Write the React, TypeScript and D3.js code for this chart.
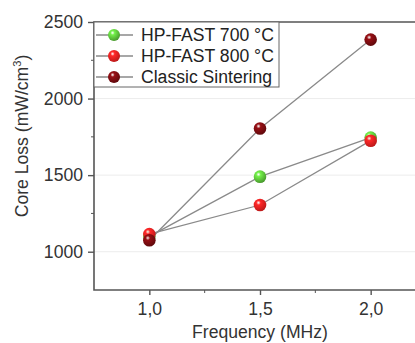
import React, { useEffect, useRef } from 'react';
import * as d3 from 'd3';

// Values
const frequencies = [1.0, 1.5, 2.0];
const hpFast700 = [1100, 1490, 1745];
const hpFast800 = [1115, 1305, 1725];
const classicSintering = [1075, 1805, 2385];

const seriesNames = ['HP-FAST 700 °C', 'HP-FAST 800 °C', 'Classic Sintering'];
const seriesColors = ['#5cc23a', '#f02020', '#7a0c10'];
const seriesValues = [hpFast700, hpFast800, classicSintering];

const xTicks = [1.0, 1.5, 2.0];
const xMinorTicks = [1.25, 1.75, 2.25];
const yTicks = [1000, 1500, 2000, 2500];
const yMinorTicks = [1250, 1750, 2250];

const App = () => {
  const ref = useRef<SVGSVGElement>(null);

  useEffect(() => {
    const svg = d3.select(ref.current);
    svg.selectAll('*').remove();

    const width = 415;
    const height = 343;
    const margin = { top: 22, left: 94, bottom: 290 };
    const font = "'Liberation Sans', Arial, sans-serif";
    const fontSize = '17.6px';

    const x = d3.scaleLinear().domain([0.75, 2.25]).range([margin.left, margin.left + 332]);
    const y = d3.scaleLinear().domain([750, 2500]).range([margin.bottom, margin.top]);

    svg.attr('width', width).attr('height', height);

    // gradients for the ball markers
    const defs = svg.append('defs');
    seriesColors.forEach((c, i) => {
      const g = defs.append('radialGradient')
        .attr('id', `ball${i}`)
        .attr('cx', '0.38').attr('cy', '0.32').attr('r', '0.7');
      g.append('stop').attr('offset', '0%').attr('stop-color', '#ffffff').attr('stop-opacity', 0.9);
      g.append('stop').attr('offset', '25%').attr('stop-color', d3.color(c)!.brighter(0.6).toString());
      g.append('stop').attr('offset', '100%').attr('stop-color', d3.color(c)!.darker(0.7).toString());
    });

    // light horizontal grid
    svg.append('g')
      .selectAll('line')
      .data(yTicks.slice(0, 3))
      .enter().append('line')
      .attr('x1', margin.left).attr('x2', width)
      .attr('y1', d => y(d)).attr('y2', d => y(d))
      .attr('stroke', '#ececec').attr('stroke-width', 1);

    // frame
    svg.append('path')
      .attr('d', `M${width + 2},${margin.top}H${margin.left}V${margin.bottom}H${width + 2}`)
      .attr('fill', 'none').attr('stroke', '#555').attr('stroke-width', 1.6);

    // x axis
    const xAxis = svg.append('g').attr('transform', `translate(0,${margin.bottom})`);
    xAxis.call(
      d3.axisBottom(x).tickValues(xTicks).tickSize(5).tickPadding(8)
        .tickFormat(d => d3.format('.1f')(d as number).replace('.', ','))
    );
    xAxis.append('g').selectAll('line')
      .data(xMinorTicks)
      .enter().append('line')
      .attr('x1', d => x(d)).attr('x2', d => x(d))
      .attr('y1', 0).attr('y2', 3)
      .attr('stroke', '#555');

    // y axis
    const yAxis = svg.append('g').attr('transform', `translate(${margin.left},0)`);
    yAxis.call(d3.axisLeft(y).tickValues(yTicks).tickSize(6).tickPadding(5).tickFormat(d3.format('d')));
    yAxis.append('g').selectAll('line')
      .data(yMinorTicks)
      .enter().append('line')
      .attr('x1', 0).attr('x2', -3)
      .attr('y1', d => y(d)).attr('y2', d => y(d))
      .attr('stroke', '#555');

    svg.selectAll('.domain').remove();
    svg.selectAll('.tick line').attr('stroke', '#555').attr('stroke-width', 1.4);
    svg.selectAll('.tick text')
      .attr('fill', '#333')
      .style('font-family', font)
      .style('font-size', fontSize);

    // axis titles
    svg.append('text')
      .attr('x', x(1.5)).attr('y', 338)
      .attr('text-anchor', 'middle')
      .attr('fill', '#333')
      .style('font-family', font).style('font-size', fontSize)
      .text('Frequency (MHz)');

    const yTitle = svg.append('text')
      .attr('transform', `translate(28,${(margin.top + margin.bottom) / 2 - 20}) rotate(-90)`)
      .attr('text-anchor', 'middle')
      .attr('fill', '#333')
      .style('font-family', font).style('font-size', fontSize);
    yTitle.append('tspan').text('Core Loss (mW/cm');
    yTitle.append('tspan').attr('dy', -7).style('font-size', '11px').text('3');
    yTitle.append('tspan').attr('dy', 7).text(')');

    // series lines and markers
    const line = d3.line<number>()
      .x((_, i) => x(frequencies[i]))
      .y(d => y(d));

    seriesValues.forEach(vals => {
      svg.append('path')
        .datum(vals)
        .attr('d', line)
        .attr('fill', 'none')
        .attr('stroke', '#8a8a8a')
        .attr('stroke-width', 1.3);
    });

    seriesValues.forEach((vals, s) => {
      svg.append('g').selectAll('circle')
        .data(vals)
        .enter().append('circle')
        .attr('cx', (_, i) => x(frequencies[i]))
        .attr('cy', d => y(d))
        .attr('r', 6.3)
        .attr('fill', `url(#ball${s})`);
    });

    // legend
    const legend = svg.append('g');
    legend.append('rect')
      .attr('x', margin.left).attr('y', margin.top)
      .attr('width', 185).attr('height', 65)
      .attr('fill', 'white').attr('stroke', '#666').attr('stroke-width', 1);

    seriesNames.forEach((name, i) => {
      const cy = 35 + i * 21;
      legend.append('line')
        .attr('x1', 96).attr('x2', 133)
        .attr('y1', cy).attr('y2', cy)
        .attr('stroke', '#8a8a8a').attr('stroke-width', 1.3);
      legend.append('circle')
        .attr('cx', 114).attr('cy', cy).attr('r', 6)
        .attr('fill', `url(#ball${i})`);
      legend.append('text')
        .attr('x', 141).attr('y', cy + 6)
        .attr('fill', '#222')
        .style('font-family', font).style('font-size', fontSize)
        .text(name);
    });
  }, []);

  return (
    <div style={{ position: 'absolute', left: 0, top: 0, background: 'white' }}>
      <svg ref={ref}></svg>
    </div>
  );
};

export default App;
